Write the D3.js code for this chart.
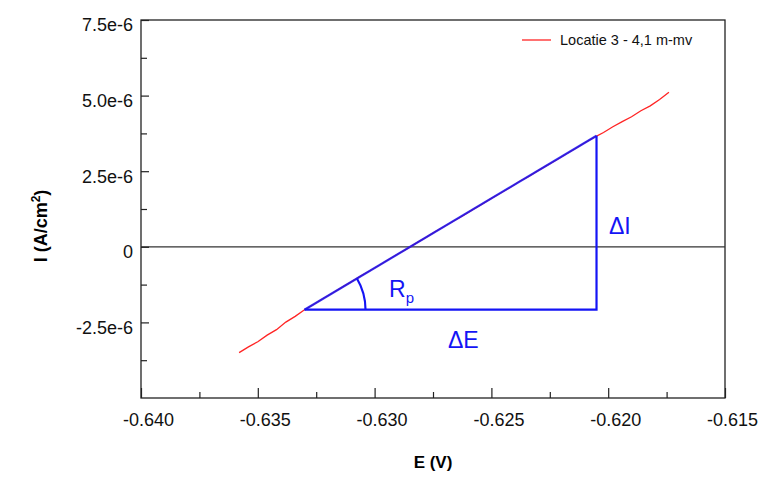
<!DOCTYPE html>
<html><head><meta charset="utf-8">
<script src="https://cdn.jsdelivr.net/npm/d3@7"></script>
<style>body{margin:0;background:#fff}text{font-family:Arial,"Liberation Sans",sans-serif}</style>
</head><body><svg id="c" width="778" height="480"></svg>
<script>
const potentialE = [-0.6358,-0.6354,-0.6350,-0.6346,-0.6342,-0.6338,-0.6334,-0.6330,-0.6326,-0.6322,-0.6318,-0.6314,-0.6310,-0.6306,-0.6302,-0.6298,-0.6294,-0.6290,-0.6286,-0.6282,-0.6278,-0.6274,-0.6270,-0.6266,-0.6262,-0.6258,-0.6254,-0.6250,-0.6246,-0.6242,-0.6238,-0.6234,-0.6230,-0.6226,-0.6222,-0.6218,-0.6214,-0.6210,-0.6206,-0.6202,-0.6198,-0.6194,-0.6190,-0.6186,-0.6182,-0.6178,-0.6174];
const currentI_e6 = [-3.50,-3.31,-3.14,-2.92,-2.74,-2.49,-2.30,-2.08,-1.90,-1.71,-1.53,-1.34,-1.16,-0.97,-0.79,-0.61,-0.42,-0.24,-0.06,0.13,0.31,0.50,0.68,0.86,1.04,1.23,1.41,1.60,1.78,1.96,2.16,2.33,2.52,2.70,2.88,3.07,3.25,3.44,3.62,3.78,3.97,4.14,4.30,4.50,4.66,4.87,5.11];
const xTicks = [-0.640,-0.635,-0.630,-0.625,-0.620,-0.615];
const xTickLabels = ["-0.640","-0.635","-0.630","-0.625","-0.620","-0.615"];
const xMinor = [-0.6375,-0.6325,-0.6275,-0.6225,-0.6175];
const yTicks = [-2.5e-6,0,2.5e-6,5.0e-6,7.5e-6];
const yTickLabels = ["-2.5e-6","0","2.5e-6","5.0e-6","7.5e-6"];
const yMinor = [-3.75e-6,-1.25e-6,1.25e-6,3.75e-6,6.25e-6];
const triE = [-0.6330,-0.6205];
const triI = [-2.08e-6,3.67e-6];
const seriesName = "Locatie 3 - 4,1 m-mv";

const svg = d3.select("#c");
const L=141,R=725,T=20,B=398;
const x = d3.scaleLinear().domain([-0.640,-0.615]).range([L,R]);
const y = d3.scaleLinear().domain([-5e-6,7.5e-6]).range([B,T]);
const blue="#1414f5", red="#ff2424";

svg.append("rect").attr("x",L).attr("y",T).attr("width",R-L).attr("height",B-T)
  .attr("fill","none").attr("stroke","#222").attr("stroke-width",1.3);
svg.append("line").attr("x1",L).attr("x2",R).attr("y1",y(0)).attr("y2",y(0)).attr("stroke","#333").attr("stroke-width",1.3);

const xa = svg.append("g").attr("transform",`translate(0,${B})`)
  .call(d3.axisBottom(x).tickValues(xTicks).tickSize(-10).tickPadding(15).tickFormat((d,i)=>xTickLabels[i]));
const xm = svg.append("g").attr("transform",`translate(0,${B})`)
  .call(d3.axisBottom(x).tickValues(xMinor).tickSize(-6).tickFormat(""));
const ya = svg.append("g").attr("transform",`translate(${L},0)`)
  .call(d3.axisLeft(y).tickValues(yTicks).tickSize(-8).tickPadding(8).tickFormat((d,i)=>yTickLabels[i]));
const ym = svg.append("g").attr("transform",`translate(${L},0)`)
  .call(d3.axisLeft(y).tickValues(yMinor).tickSize(-6).tickFormat(""));
[xa,xm,ya,ym].forEach(g=>{g.select(".domain").remove();g.selectAll("line").attr("stroke","#222").attr("stroke-width",1.2);
  g.selectAll("text").attr("font-size",18).attr("fill","#111");});
xa.selectAll("text").attr("dx",7);
ya.selectAll("text").attr("dy","0.6em");

svg.append("text").attr("x",433).attr("y",468).attr("text-anchor","middle").attr("font-weight","bold").attr("font-size",17).text("E (V)");
const yt = svg.append("text").attr("transform","translate(47,226) rotate(-90)").attr("text-anchor","middle").attr("font-weight","bold").attr("font-size",18);
yt.append("tspan").text("I (A/cm");
yt.append("tspan").attr("dy",-7).attr("font-size",12).text("2");
yt.append("tspan").attr("dy",7).text(")");

// data line
const data = potentialE.map((e,i)=>({e,i:currentI_e6[i]*1e-6}));
svg.append("path").datum(data).attr("fill","none").attr("stroke",red).attr("stroke-width",1.3)
  .attr("d",d3.line().x(d=>x(d.e)).y(d=>y(d.i)));

// triangle
const p0=[x(triE[0]),y(triI[0])], p1=[x(triE[1]),y(triI[1])];
svg.append("path").attr("fill","none").attr("stroke",blue).attr("stroke-width",2.2)
  .attr("d",`M${p1[0]},${p1[1]}L${p1[0]},${p0[1]}L${p0[0]},${p0[1]}`);
svg.append("line").attr("x1",p0[0]).attr("y1",p0[1]).attr("x2",p1[0]).attr("y2",p1[1])
  .attr("stroke",blue).attr("stroke-width",2.2).attr("stroke-opacity",0.85);
const ang = Math.atan2(p0[1]-p1[1], p1[0]-p0[0]);
const r=61;
svg.append("path").attr("fill","none").attr("stroke",blue).attr("stroke-width",2.2)
  .attr("d",`M${p0[0]+r*Math.cos(ang)},${p0[1]-r*Math.sin(ang)} A${r},${r} 0 0 1 ${p0[0]+r},${p0[1]}`);

const rp = svg.append("text").attr("x",389).attr("y",297).attr("fill",blue).attr("font-size",23);
rp.append("tspan").text("R");
rp.append("tspan").attr("dy",6).attr("font-size",15).text("p");
svg.append("text").attr("x",609).attr("y",234).attr("fill",blue).attr("font-size",23).text("ΔI");
svg.append("text").attr("x",448).attr("y",348).attr("fill",blue).attr("font-size",23).text("ΔE");

svg.append("line").attr("x1",522).attr("x2",551).attr("y1",40).attr("y2",40).attr("stroke",red).attr("stroke-width",1.3);
svg.append("text").attr("x",560).attr("y",45).attr("font-size",14.5).attr("fill","#111").text(seriesName);
</script></body></html>
